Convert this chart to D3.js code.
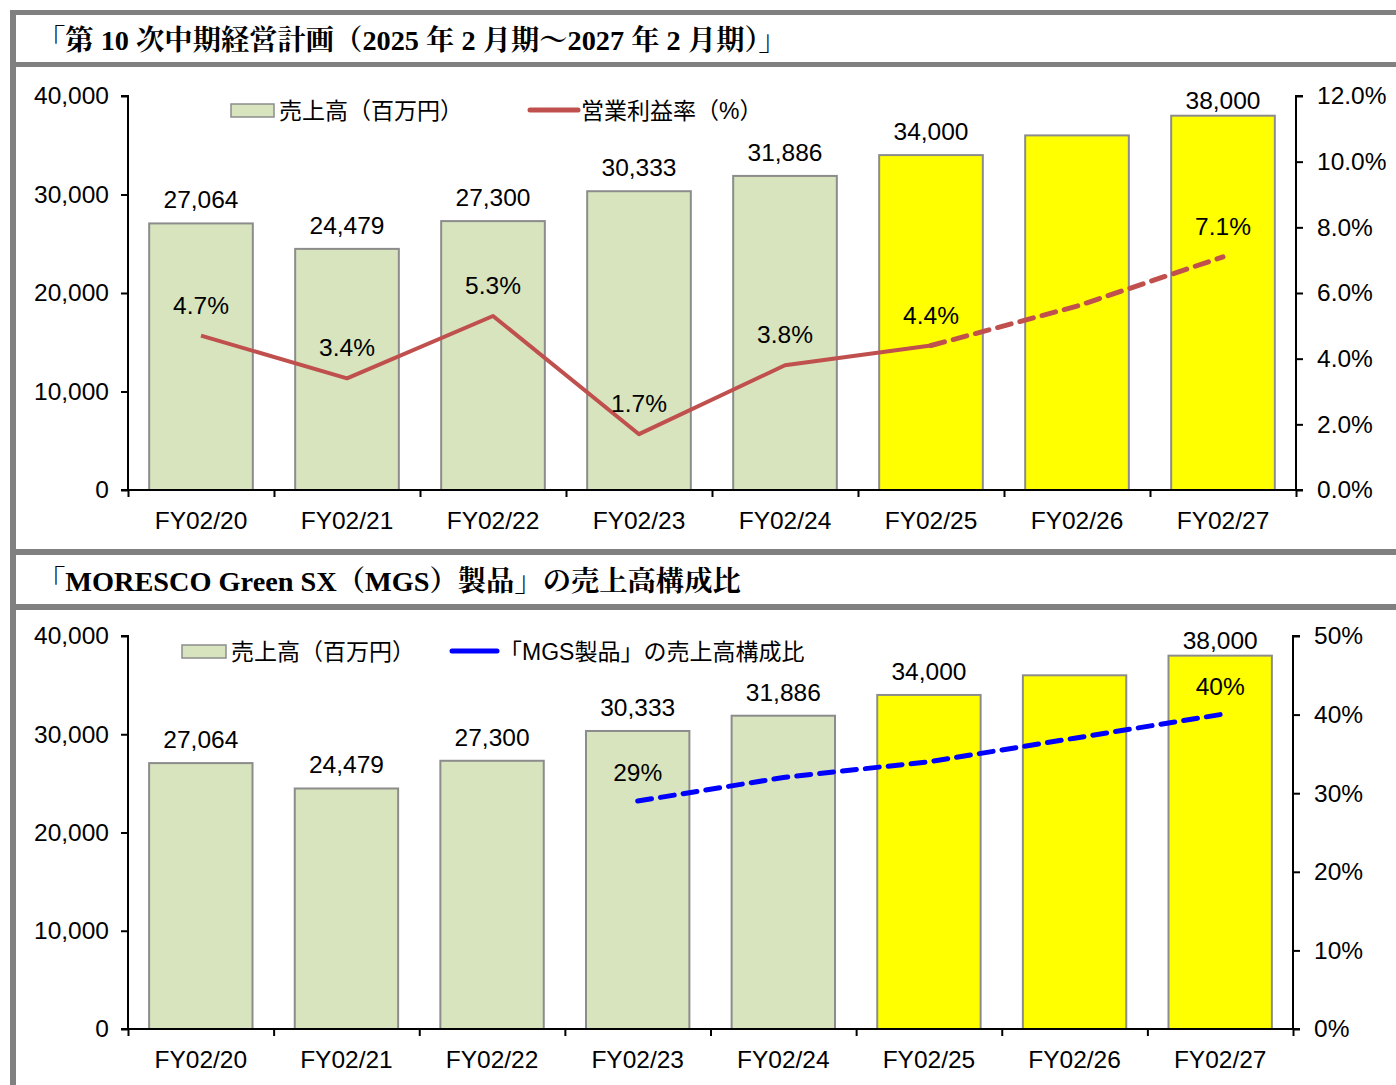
<!DOCTYPE html>
<html>
<head>
<meta charset="utf-8">
<script src="https://cdn.jsdelivr.net/npm/d3@7"></script>
<style>
  body { margin: 0; background: #fff; }
  svg { display: block; }
</style>
</head>
<body>
<svg id="chart" width="1396" height="1085"></svg>
<script>
// data
const categories = ['FY02/20', 'FY02/21', 'FY02/22', 'FY02/23', 'FY02/24', 'FY02/25', 'FY02/26', 'FY02/27'];
const sales = [27064, 24479, 27300, 30333, 31886, 34000, 36000, 38000];
const salesLabelShown = [true, true, true, true, true, true, false, true];
const isPlan = [false, false, false, false, false, true, true, true];
const opMargin = [4.7, 3.4, 5.3, 1.7, 3.8, 4.4, 5.6, 7.1];
const opLabelShown = [true, true, true, true, true, true, false, true];
const mgsRatio = [null, null, null, 29, 32, 34, 37, 40];
const mgsLabelShown = [false, false, false, true, false, false, false, true];
const leftTicks = [0, 10000, 20000, 30000, 40000];
const opTicks = [0, 2, 4, 6, 8, 10, 12];
const mgsTicks = [0, 10, 20, 30, 40, 50];
const title1 = '「第 10 次中期経営計画（2025 年 2 月期～2027 年 2 月期）」';
const title2 = '「MORESCO Green SX（MGS）製品」の売上高構成比';

const svg = d3.select('#chart');
const FONT = 'Liberation Sans, Arial, Noto Sans CJK JP, sans-serif';
const SERIF = 'Liberation Serif, Noto Serif CJK JP, Noto Sans CJK JP, serif';
const FS = 24.5;
const green = '#D7E4BD', yellow = '#FFFF00', barStroke = '#8c8c8c';
const frame = '#808080';

// frame bands
svg.append('rect').attr('x', 10).attr('y', 10).attr('width', 1386).attr('height', 5).attr('fill', frame);
svg.append('rect').attr('x', 10).attr('y', 10).attr('width', 6).attr('height', 1075).attr('fill', frame);
[[62, 5], [549, 6], [604, 6]].forEach(b => {
  svg.append('rect').attr('x', 10).attr('y', b[0]).attr('width', 1386).attr('height', b[1]).attr('fill', frame);
});

svg.append('text').attr('x', 37).attr('y', 50).attr('font-family', SERIF).attr('font-weight', 'bold')
  .attr('font-size', 28.3).attr('fill', '#000').text(title1);
svg.append('text').attr('x', 37).attr('y', 591).attr('font-family', SERIF).attr('font-weight', 'bold')
  .attr('font-size', 28.3).attr('fill', '#000').text(title2);

function drawPanel(cfg) {
  const x = d3.scaleBand().domain(categories).range([cfg.left, cfg.right]).paddingInner(0.29).paddingOuter(0.145);
  const xAx = d3.scaleLinear().domain([0, categories.length]).range([cfg.left, cfg.right]);
  const y = d3.scaleLinear().domain([0, 40000]).range([cfg.bottom, cfg.top]);
  const y2 = d3.scaleLinear().domain([0, cfg.rMax]).range([cfg.bottom, cfg.top]);
  const g = svg.append('g');
  const rows = sales.map((v, i) => ({ i, v }));

  // bars
  g.selectAll('rect.bar').data(rows).enter().append('rect')
    .attr('x', d => x(categories[d.i]))
    .attr('y', d => y(d.v))
    .attr('width', x.bandwidth())
    .attr('height', d => cfg.bottom - y(d.v))
    .attr('fill', d => isPlan[d.i] ? yellow : green)
    .attr('stroke', barStroke).attr('stroke-width', 2);

  // value labels, kept inside the plot top
  g.selectAll('text.bl').data(rows.filter(d => salesLabelShown[d.i])).enter().append('text')
    .attr('x', d => x(categories[d.i]) + x.bandwidth() / 2)
    .attr('y', d => Math.max(y(d.v) - 15, cfg.top + 13))
    .attr('text-anchor', 'middle').attr('font-family', FONT).attr('font-size', FS)
    .text(d => d3.format(',')(d.v));

  // left axis
  const la = g.append('g').attr('transform', `translate(${cfg.left},0)`)
    .call(d3.axisLeft(y).tickValues(leftTicks).tickSize(7).tickPadding(12).tickFormat(d3.format(',')));
  // right axis
  const ra = g.append('g').attr('transform', `translate(${cfg.right},0)`)
    .call(d3.axisRight(y2).tickValues(cfg.rTicks).tickSize(7).tickPadding(14).tickFormat(cfg.rFormat));
  // bottom axis, ticks on category boundaries
  const ba = g.append('g').attr('transform', `translate(0,${cfg.bottom})`)
    .call(d3.axisBottom(xAx).tickValues(d3.range(categories.length + 1)).tickSize(7).tickFormat(''));
  g.selectAll('text.xl').data(categories).enter().append('text')
    .attr('x', d => x(d) + x.bandwidth() / 2)
    .attr('y', cfg.bottom + 39)
    .attr('text-anchor', 'middle').attr('font-family', FONT).attr('font-size', FS)
    .text(d => d);

  [la, ra, ba].forEach(a => {
    a.selectAll('path.domain').attr('stroke', '#000').attr('stroke-width', 2);
    a.selectAll('line').attr('stroke', '#000').attr('stroke-width', 2);
    a.selectAll('text').attr('font-family', FONT).attr('font-size', FS).attr('fill', '#000');
  });
  la.select('path.domain').attr('d', `M-7,${cfg.top}H0V${cfg.bottom}H-7`);
  ra.select('path.domain').attr('d', `M7,${cfg.top}H0V${cfg.bottom}H7`);
  ba.select('path.domain').attr('d', `M${cfg.left},0H${cfg.right}`);

  return { x, y2, g };
}

// ---- panel 1
const p1 = drawPanel({
  left: 128, right: 1296, top: 96, bottom: 490, rMax: 12, rTicks: opTicks,
  rFormat: d => d.toFixed(1) + '%'
});
const cx1 = i => p1.x(categories[i]) + p1.x.bandwidth() / 2;
const line1 = d3.line().x(d => cx1(d.i)).y(d => p1.y2(d.v));
const opPts = opMargin.map((v, i) => ({ i, v }));
p1.g.append('path').datum(opPts.slice(0, 6)).attr('d', line1)
  .attr('fill', 'none').attr('stroke', '#C0504D').attr('stroke-width', 4).attr('stroke-linejoin', 'round');
p1.g.append('path').datum(opPts.slice(5)).attr('d', line1)
  .attr('fill', 'none').attr('stroke', '#C0504D').attr('stroke-width', 5)
  .attr('stroke-dasharray', '14,9').attr('stroke-linecap', 'round');
p1.g.selectAll('text.ol').data(opPts.filter(d => opLabelShown[d.i])).enter().append('text')
  .attr('x', d => cx1(d.i)).attr('y', d => p1.y2(d.v) - 22)
  .attr('text-anchor', 'middle').attr('font-family', FONT).attr('font-size', FS)
  .text(d => d.v.toFixed(1) + '%');

// legend 1
svg.append('rect').attr('x', 231).attr('y', 104).attr('width', 43).attr('height', 13)
  .attr('fill', green).attr('stroke', barStroke).attr('stroke-width', 1.5);
svg.append('text').attr('x', 279).attr('y', 119).attr('font-family', FONT).attr('font-size', 23).text('売上高（百万円）');
svg.append('line').attr('x1', 530).attr('x2', 578).attr('y1', 110).attr('y2', 110)
  .attr('stroke', '#C0504D').attr('stroke-width', 5).attr('stroke-linecap', 'round');
svg.append('text').attr('x', 581).attr('y', 119).attr('font-family', FONT).attr('font-size', 23).text('営業利益率（%）');

// ---- panel 2
const p2 = drawPanel({
  left: 128, right: 1293, top: 636, bottom: 1029, rMax: 50, rTicks: mgsTicks,
  rFormat: d => d + '%'
});
const cx2 = i => p2.x(categories[i]) + p2.x.bandwidth() / 2;
const mgsPts = mgsRatio.map((v, i) => ({ i, v })).filter(d => d.v !== null);
p2.g.append('path').datum(mgsPts)
  .attr('d', d3.line().x(d => cx2(d.i)).y(d => p2.y2(d.v)))
  .attr('fill', 'none').attr('stroke', '#0000FF').attr('stroke-width', 5)
  .attr('stroke-dasharray', '14,9').attr('stroke-linecap', 'round');
p2.g.selectAll('text.ml').data(mgsPts.filter(d => mgsLabelShown[d.i])).enter().append('text')
  .attr('x', d => cx2(d.i)).attr('y', d => p2.y2(d.v) - 20)
  .attr('text-anchor', 'middle').attr('font-family', FONT).attr('font-size', FS)
  .text(d => d.v + '%');

// legend 2
svg.append('rect').attr('x', 182).attr('y', 645).attr('width', 44).attr('height', 13)
  .attr('fill', green).attr('stroke', barStroke).attr('stroke-width', 1.5);
svg.append('text').attr('x', 231).attr('y', 660).attr('font-family', FONT).attr('font-size', 23).text('売上高（百万円）');
svg.append('line').attr('x1', 452).attr('x2', 497).attr('y1', 651).attr('y2', 651)
  .attr('stroke', '#0000FF').attr('stroke-width', 5).attr('stroke-linecap', 'round');
svg.append('text').attr('x', 499).attr('y', 660).attr('font-family', FONT).attr('font-size', 23)
  .text('「MGS製品」の売上高構成比');
</script>
</body>
</html>
